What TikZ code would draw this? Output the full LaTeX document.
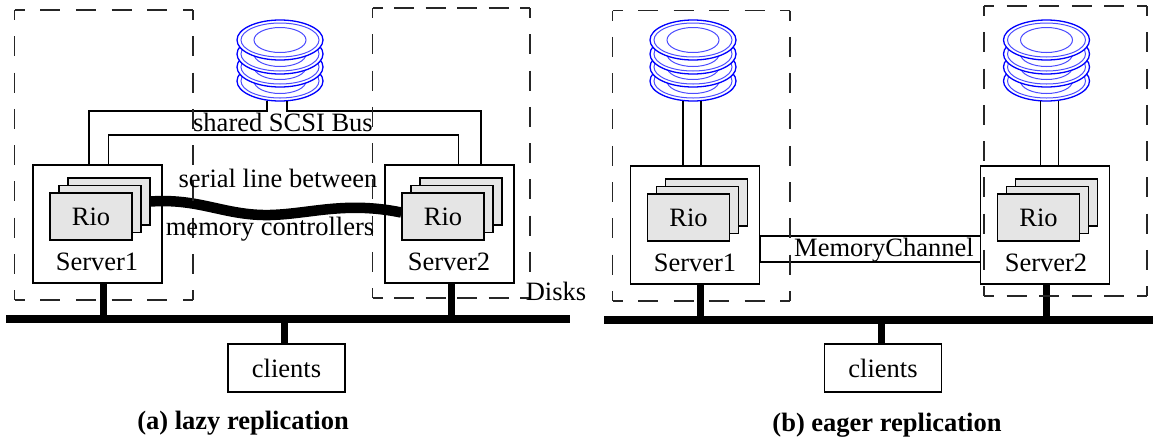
\documentclass[tikz,border=0pt]{standalone}
\usepackage{fontspec}
\setmainfont{Liberation Serif}
\usetikzlibrary{arrows}

% three cards, the front one carries the label
\newcommand{\riostack}[3]{
    \node[riobox] (#1c) at (#2+18,#3-15) {};
    \node[riobox] (#1b) at (#2+9,#3-7.5) {};
    \node[riobox] (#1a) at (#2,#3) {Rio};
}
% platters from the bottom up, (#1) is the foot of the stack
\newcommand{\diskstack}[2]{
    \foreach \cy in {81,67,54,40} {
        \draw[platter] (#2,\cy) ellipse (43 and 20);
        \draw[platterin] (#2,\cy) ellipse (39 and 17);
        \draw[platterin] (#2,\cy) ellipse (26 and 12.5);
    }
    \coordinate (#1) at (#2,101);
}
% dashed frame, the gaps are stretched so that every corner gets a dash
\newcommand{\hostbox}[4]{
    \pgfmathsetmacro{\gapw}{(#3-#1-20-20*round((#3-#1-35)/35))/(round((#3-#1-35)/35)+1)}
    \pgfmathsetmacro{\gaph}{(#4-#2-20-20*round((#4-#2-35)/35))/(round((#4-#2-35)/35)+1)}
    \draw[hostframe, dash pattern = on 20pt off \gapw pt, dash phase = 10pt]
        (#1,#2) -- (#3,#2) (#1,#4) -- (#3,#4);
    \draw[hostframe, dash pattern = on 20pt off \gaph pt, dash phase = 10pt]
        (#1,#2) -- (#1,#4) (#3,#2) -- (#3,#4);
}

\begin{document}
\begin{tikzpicture}[x = 1pt, y = -1pt, % same units as the page
                semithick, % line style
                line width = 1.3pt
            ]

            \tikzstyle{every node}=[font = \fontsize{26.5}{30}\selectfont, inner sep = 0pt]
            \tikzstyle{serverbox}=[draw, minimum width = 129pt, minimum height = 118pt]
            \tikzstyle{riobox}=[draw, fill = black!10, minimum width = 82pt, minimum height = 47pt]
            \tikzstyle{clientbox}=[draw, minimum width = 117pt, minimum height = 48pt]
            \tikzstyle{hostframe}=[draw = black!85, line width = 1.4pt]
            \tikzstyle{platter}=[draw = blue, fill = white, line width = 1.3pt]
            \tikzstyle{platterin}=[draw = blue!70, line width = 1pt]
            \tikzstyle{busline}=[line width = 8pt]
            \tikzstyle{stubline}=[line width = 7pt]
            \tikzstyle{serialline}=[line width = 10.5pt]
            \tikzstyle{captiontext}=[font = \fontsize{26.5}{30}\selectfont\bfseries]

            \useasboundingbox (0,0) rectangle (1153,440);

            % (a) lazy replication
            \diskstack{diskA}{280}
            \node[serverbox] (srvA) at (97.5,224) {};
            \node[serverbox] (srvB) at (449.5,224) {};
            \riostack{rioA}{91}{216.5}
            \riostack{rioB}{443}{216.5}
            \node (srvAlabel) at (97,262) {Server1};
            \node (srvBlabel) at (449,262) {Server2};
            \node[clientbox] (clientsA) at (286.5,368) {clients};
            \coordinate (busAl) at (6,319); \coordinate (busAr) at (570,319);

            \draw ([xshift=-13pt]diskA) -- ++(0,10) -| ([xshift=-8.5pt]srvA.north);
            \draw ([xshift=7pt]diskA) -- ++(0,10) -| ([xshift=31.5pt]srvB.north);
            \draw ([xshift=11pt]srvA.north) -- ++(0,-29.5) -| ([xshift=9pt]srvB.north);
            \draw[serialline] (rioAc.east) .. controls (200,198) and (225,216) .. (270,215)
                .. controls (310,214) and (345,201) .. ([yshift=4pt]rioBa.west);
            \draw[busline] (busAl) -- (busAr);
            \draw[stubline] ([xshift=5.5pt]srvA.south) -- ([xshift=5.5pt]srvA.south |- busAl);
            \draw[stubline] ([xshift=1.5pt]srvB.south) -- ([xshift=1.5pt]srvB.south |- busAl);
            \draw[stubline] ([xshift=-2pt]clientsA.north) -- ([xshift=-2pt]clientsA.north |- busAl);
            \hostbox{14.5}{10}{193}{300}
            \hostbox{372.5}{8}{530}{298}

            \node (scsi) at (283,122) {shared SCSI Bus};
            \node (serialtop) at (278,178) {serial line between};
            \node (serialbot) at (270,229) {memory controllers};
            \node (disks) at (556,291) {Disks};
            \node[captiontext] (capA) at (243,423) {(a) lazy replication};

            % (b) eager replication
            \diskstack{diskC}{693}
            \diskstack{diskD}{1046.5}
            \node[serverbox] (srvC) at (695,225) {};
            \node[serverbox] (srvD) at (1045,225) {};
            \riostack{rioC}{688.5}{217.5}
            \riostack{rioD}{1038.5}{217.5}
            \node (srvClabel) at (695,263) {Server1};
            \node (srvDlabel) at (1046,263) {Server2};
            \node[clientbox] (clientsB) at (883,368) {clients};
            \coordinate (busBl) at (604,319.5); \coordinate (busBr) at (1153,319.5);

            \draw ([xshift=-10pt]diskC) -- ([xshift=-12pt]srvC.north);
            \draw ([xshift=8pt]diskC) -- ([xshift=6pt]srvC.north);
            \draw ([xshift=-6pt]diskD) -- ([xshift=-4.5pt]srvD.north);
            \draw ([xshift=12pt]diskD) -- ([xshift=13.5pt]srvD.north);
            \draw ([yshift=-11pt]srvD.west) -- ([yshift=-11pt]srvC.east)
                -- ([yshift=-37pt]srvC.east) -- ([yshift=-37pt]srvD.west);
            \draw[busline] (busBl) -- (busBr);
            \draw[stubline] ([xshift=5.5pt]srvC.south) -- ([xshift=5.5pt]srvC.south |- busBl);
            \draw[stubline] ([xshift=1pt]srvD.south) -- ([xshift=1pt]srvD.south |- busBl);
            \draw[stubline] ([xshift=-2pt]clientsB.north) -- ([xshift=-2pt]clientsB.north |- busBl);
            \hostbox{612.5}{10.5}{790}{301}
            \hostbox{984}{6}{1147}{296}

            \node (memchan) at (884,250) {MemoryChannel};
            \node[captiontext] (capB) at (887,425) {(b) eager replication};
\end{tikzpicture}
\end{document}
